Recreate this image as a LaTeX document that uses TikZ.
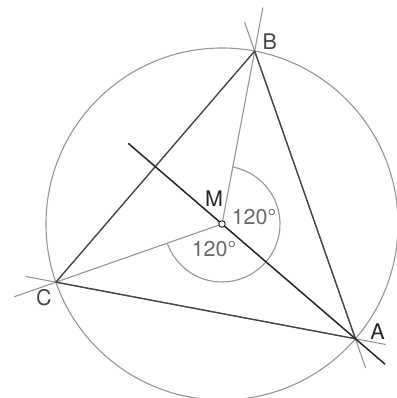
\documentclass[tikz,border=0pt]{standalone}
\usepackage{fontspec}
\setmainfont{TeX Gyre Heros}
\usepackage{xcolor}
\usetikzlibrary{calc,positioning}
\definecolor{ink}{HTML}{262626}
\definecolor{side}{HTML}{474747}
\definecolor{guide}{HTML}{969696}
\definecolor{soft}{HTML}{6A6A6A}
\tikzset{
    every picture/.style={line cap=round,line join=round},
    guideline/.style={draw=guide,line width=1.1pt},
    sideline/.style={draw=side,line width=1.4pt},
    axisline/.style={draw=ink,line width=1.5pt},
    centerdot/.style={draw=ink,fill=white,circle,inner sep=0pt,
      minimum size=6.5pt,line width=1pt},
    ptlabel/.style={text=side,font=\fontsize{21.5}{25}\selectfont,inner sep=1pt},
    anglabel/.style={text=soft,font=\fontsize{21.5}{25}\selectfont,inner sep=1pt}
}

\begin{document}
\begin{tikzpicture}[x=1pt,y=1pt]
    \useasboundingbox (0,0) rectangle (396,398);
    \coordinate (M) at (222,174);
    \coordinate (B) at ($(M)+(79.3:176)$);
    \coordinate (A) at ($(M)+(-40.7:176)$);
    \coordinate (C) at ($(M)+(199.3:176)$);
    % circle and the rays from M
    \draw[guideline] (M) circle[radius=176];
    \draw[guideline] (M)--($(M)!1.25!(B)$);
    \draw[guideline] (M)--($(M)!1.25!(C)$);
    \draw[guideline] (M) ++(79.3:58) arc[start angle=79.3,end angle=-160.7,radius=58];
    % sides carried past the corners
    \draw[guideline] ($(A)!-0.1!(B)$)--($(B)!-0.1!(A)$);
    \draw[guideline] ($(A)!-0.1!(C)$)--($(C)!-0.1!(A)$);
    \draw[sideline] (A)--(B)--(C)--cycle;
    \draw[axisline] ($(M)!-0.7!(A)$)--($(M)!1.22!(A)$);
    \node[centerdot] (mdot) at (M) {};
    % labels
    \node[ptlabel] (labB) at ($(B)+(15,9)$) {B};
    \node[ptlabel] (labC) at ($(C)+(-12,-15)$) {C};
    \node[ptlabel,text=ink] (labA) at ($(A)+(22,7)$) {A};
    \node[ptlabel,text=ink] (labM) at ($(M)+(-8,25)$) {M};
    \node[anglabel] (angBA) at ($(M)+(32,7)$) {120°};
    \node[anglabel] (angAC) at ($(M)+(-8,-25)$) {120°};
\end{tikzpicture}
\end{document}
